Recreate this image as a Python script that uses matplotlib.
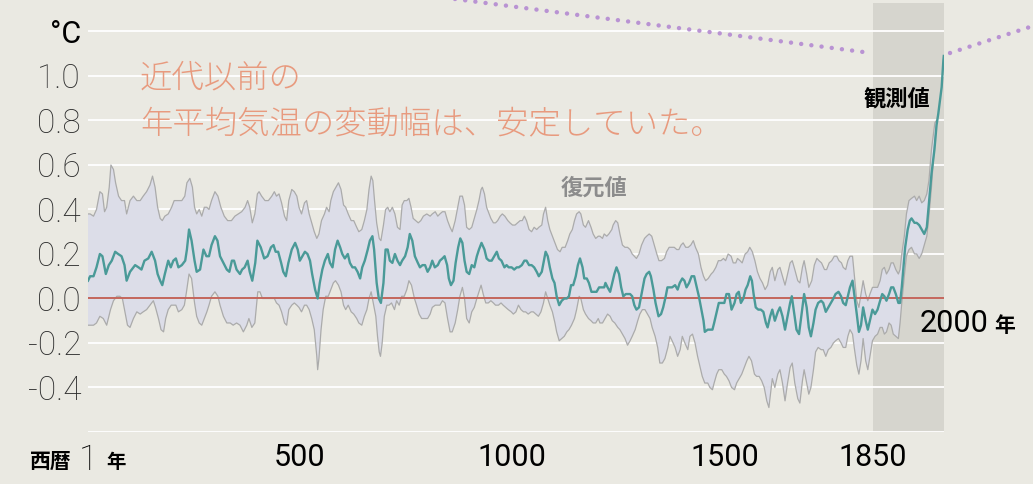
import numpy as np
import matplotlib
matplotlib.use('Agg')
import matplotlib.pyplot as plt
from matplotlib.lines import Line2D

# reconstructed mean (teal line), then observations from 1850
cen_year = [1, 6, 14, 21, 29, 35, 43, 50, 57, 65, 72, 80, 87, 92, 100, 112, 120, 127, 134, 143,
            151, 159, 165, 171, 176, 182, 190, 196, 202, 208, 214, 222, 230, 234, 239, 245, 252, 257, 265, 273,
            280, 286, 292, 300, 306, 312, 320, 328, 334, 340, 345, 351, 359, 364, 370, 377, 382, 388, 395, 400,
            408, 416, 424, 432, 438, 443, 449, 456, 461, 467, 473, 481, 489, 495, 500, 506, 512, 518, 524, 529,
            536, 542, 547, 553, 559, 566, 571, 577, 583, 589, 595, 600, 606, 613, 618, 624, 630, 636, 642, 647,
            653, 660, 665, 671, 675, 681, 686, 691, 697, 702, 707, 712, 718, 724, 730, 736, 741, 748, 754, 759,
            765, 771, 778, 783, 789,
            795, 801, 807, 812, 818, 825, 830, 836, 841, 847, 851, 856, 862, 867, 873, 878, 883, 888, 893, 899,
            905, 911, 917, 922, 928, 935, 940, 946, 952, 958, 964, 969, 975, 982, 987, 992, 999, 1005, 1011, 1016,
            1023, 1029, 1034, 1040, 1046, 1052, 1058, 1063, 1070, 1074, 1079, 1084, 1089, 1095, 1100, 1105, 1111,
            1117, 1123, 1129, 1134, 1139, 1144, 1150, 1155, 1160, 1166, 1170, 1176, 1181, 1187, 1194, 1199, 1205,
            1213, 1217, 1220, 1225, 1231, 1236, 1241, 1246, 1252, 1257, 1262, 1268, 1272, 1278, 1283, 1288, 1293,
            1299, 1305, 1312, 1317, 1323, 1327, 1333, 1338, 1345, 1351, 1356, 1362, 1366, 1372, 1377, 1384, 1390,
            1395, 1401, 1406, 1411, 1417, 1423, 1429, 1435, 1440, 1445, 1451, 1454, 1461, 1466, 1472, 1476, 1482,
            1487, 1494, 1500, 1505, 1511, 1517, 1524, 1529, 1534, 1539, 1545, 1550, 1555, 1561, 1565, 1569, 1574,
            1580, 1586, 1592, 1598,
            1602, 1608, 1613, 1619, 1626, 1631, 1637, 1643, 1649, 1655, 1659, 1665, 1670, 1676, 1682, 1688, 1694,
            1699, 1704, 1710, 1715, 1721, 1728, 1733, 1739, 1745, 1751, 1757, 1762, 1769, 1775, 1780, 1786, 1791,
            1796, 1802, 1806, 1812, 1817, 1822, 1827, 1833, 1838, 1843, 1849, 1855, 1861, 1867, 1872, 1877, 1882,
            1888, 1893, 1898, 1904, 1910, 1914, 1918, 1922, 1926, 1932, 1937, 1941, 1948, 1953, 1959, 1965, 1971,
            1977, 1982, 1988, 1995, 2000, 2004, 2008, 2012, 2016, 2017]
cen_temp = [0.08, 0.10, 0.10, 0.14, 0.20, 0.19, 0.11, 0.15, 0.17, 0.21, 0.20, 0.19, 0.15, 0.08, 0.12, 0.15, 0.14, 0.13, 0.17, 0.18,
            0.21, 0.17, 0.11, 0.08, 0.06, 0.11, 0.17, 0.14, 0.17, 0.18, 0.14, 0.15, 0.17, 0.22, 0.31, 0.26, 0.17, 0.12, 0.13, 0.22,
            0.19, 0.19, 0.24, 0.28, 0.26, 0.19, 0.16, 0.13, 0.12, 0.17, 0.17, 0.13, 0.11, 0.13, 0.14, 0.17, 0.12, 0.08, 0.16, 0.26,
            0.23, 0.18, 0.19, 0.23, 0.24, 0.21, 0.21, 0.16, 0.12, 0.10, 0.16, 0.22, 0.25, 0.22, 0.17, 0.19, 0.21, 0.20, 0.17, 0.11,
            0.04, 0.00, 0.07, 0.13, 0.17, 0.20, 0.16, 0.14, 0.22, 0.26, 0.23, 0.20, 0.18, 0.20, 0.16, 0.14, 0.14, 0.12, 0.09, 0.14,
            0.17, 0.22, 0.26, 0.28, 0.22, 0.07, 0.00, -0.02, 0.07, 0.22, 0.22, 0.17, 0.16, 0.20, 0.17, 0.15, 0.17, 0.19, 0.23, 0.29,
            0.26, 0.19, 0.16, 0.14, 0.15,
            0.15, 0.12, 0.14, 0.17, 0.14, 0.15, 0.17, 0.18, 0.19, 0.15, 0.09, 0.06, 0.08, 0.16, 0.23, 0.27, 0.25, 0.17, 0.12, 0.11,
            0.15, 0.14, 0.19, 0.22, 0.25, 0.22, 0.18, 0.17, 0.17, 0.19, 0.21, 0.18, 0.17, 0.14, 0.15, 0.14, 0.14, 0.13, 0.14, 0.14,
            0.15, 0.17, 0.17, 0.15, 0.15, 0.14, 0.12, 0.10, 0.12, 0.16, 0.21, 0.19, 0.14, 0.09, 0.07, 0.01, -0.03,
            -0.01, 0.00, 0.00, 0.01, 0.06, 0.06, 0.10, 0.15, 0.18, 0.14, 0.09, 0.09, 0.07, 0.03, 0.03, 0.03, 0.05,
            0.05, 0.05, 0.07, 0.05, 0.03, 0.07, 0.11, 0.14, 0.11, 0.05, 0.01, 0.02, 0.02, 0.02, 0.01, -0.03, -0.05,
            -0.04, 0.02, 0.09, 0.11, 0.12, 0.10, 0.04, -0.02, -0.08, -0.07, -0.04, 0.01, 0.05, 0.05, 0.05, 0.06, 0.04,
            0.07, 0.09, 0.08, 0.05, 0.07, 0.10, 0.10, 0.05, 0.01, -0.04, -0.10, -0.15, -0.14, -0.14, -0.14, -0.11, -0.06,
            -0.02, -0.02, -0.02, 0.02, 0.02, -0.05, -0.02, 0.02, 0.03, -0.02, 0.00, 0.04, 0.06, 0.10, 0.08, 0.02, -0.04,
            -0.05, -0.05, -0.06, -0.11,
            -0.13, -0.08, -0.05, -0.10, -0.06, -0.04, -0.08, -0.14, -0.08, -0.02, 0.01, -0.07, -0.14, -0.16, -0.07, 0.02, -0.04,
            -0.13, -0.17, -0.11, -0.05, -0.02, -0.01, -0.02, -0.06, -0.04, -0.02, 0.00, 0.02, 0.03, 0.01, -0.02, -0.03, 0.01,
            0.05, 0.08, 0.02, -0.07, -0.15, -0.12, -0.04, -0.10, -0.14, -0.10, -0.05, -0.07, -0.05, -0.01, 0.02, 0.01, -0.01,
            0.02, 0.05, 0.05, 0.02, -0.02, -0.02, 0.05, 0.14, 0.23, 0.31, 0.35, 0.36, 0.34, 0.34, 0.33, 0.31, 0.29,
            0.32, 0.43, 0.56, 0.67, 0.78, 0.83, 0.89, 0.95, 1.07, 1.09]

# upper edge of the reconstruction range
up_year = [1, 6, 14, 21, 29, 35, 40, 45, 51, 55, 61, 66, 73, 80, 87, 92, 100, 108, 116, 124,
           131, 139, 147, 153, 159, 165, 171, 176, 182, 190, 198, 204, 212, 222, 229, 234, 241, 247, 252, 257,
           263, 269, 275, 281, 286, 292, 300, 307, 314, 322, 330, 339, 347, 355, 363, 371, 377, 382, 388, 394, 400,
           404, 410, 418, 426, 434, 440, 445, 451, 457, 464, 469, 474, 481, 487, 493, 498, 504, 511, 516, 522,
           528, 534, 540, 545, 551, 558, 563, 569, 573, 579, 585, 591, 597, 603, 608, 614, 621, 627, 634, 639,
           646, 652, 658, 663, 668, 672, 676, 681, 687, 691, 697, 702, 707, 712, 718, 724, 730, 736, 741, 746,
           752, 757, 762, 767, 773, 779, 785, 791, 799,
           807, 812, 819, 825, 830, 836, 842, 848, 854, 859, 866, 872, 877, 883, 888, 893, 899, 905, 911, 917,
           922, 927, 930, 935, 940, 946, 950, 956, 961, 966, 972, 977, 983, 990, 995, 1001, 1007, 1013, 1019, 1024,
           1029, 1034, 1040, 1046, 1052, 1058, 1063, 1070, 1074, 1079, 1084, 1089, 1095, 1101, 1107, 1113, 1118,
           1125, 1131, 1136, 1142, 1147, 1152, 1158, 1162, 1168, 1173, 1180, 1186, 1191, 1197, 1203,
           1207, 1213, 1217, 1223, 1228, 1235, 1238, 1244, 1249, 1254, 1260, 1266, 1272, 1278, 1283, 1288, 1293,
           1299, 1305, 1312, 1317, 1323, 1329, 1335, 1341, 1346, 1352, 1359, 1364, 1370, 1376, 1382, 1388, 1393,
           1398, 1403, 1409, 1415, 1421, 1427, 1432, 1439, 1445, 1451, 1456, 1462, 1469, 1474, 1480, 1486, 1492,
           1498, 1503, 1509, 1516, 1521, 1527, 1531, 1537, 1542, 1549, 1555, 1560, 1566, 1572, 1578, 1584, 1590,
           1596, 1602, 1608,
           1613, 1619, 1626, 1631, 1637, 1643, 1649, 1655, 1660, 1666, 1673, 1678, 1684, 1688, 1694, 1699, 1706,
           1712, 1718, 1723, 1729, 1736, 1741, 1747, 1753, 1759, 1765, 1770, 1776, 1780, 1786, 1791, 1796, 1802,
           1806, 1812, 1817, 1822, 1827, 1833, 1838, 1843, 1849, 1855, 1861, 1867, 1872, 1877, 1882, 1888, 1893,
           1898, 1904, 1910, 1914, 1918, 1924, 1929, 1935, 1941, 1948, 1953, 1959, 1965, 1971, 1977, 1982, 1988,
           1992, 1996, 2000]
up_temp = [0.38, 0.38, 0.37, 0.40, 0.48, 0.47, 0.39, 0.41, 0.50, 0.60, 0.58, 0.52, 0.46, 0.44, 0.44, 0.38, 0.44, 0.46, 0.44, 0.44,
           0.46, 0.48, 0.51, 0.55, 0.50, 0.41, 0.36, 0.35, 0.37, 0.38, 0.41, 0.44, 0.44, 0.44, 0.46, 0.52, 0.54, 0.50, 0.41, 0.38,
           0.40, 0.37, 0.41, 0.41, 0.40, 0.44, 0.48, 0.46, 0.41, 0.37, 0.35, 0.35, 0.37, 0.38, 0.39, 0.41, 0.44, 0.41, 0.34, 0.38, 0.47,
           0.48, 0.46, 0.44, 0.44, 0.46, 0.48, 0.46, 0.47, 0.43, 0.37, 0.35, 0.44, 0.49, 0.48, 0.46, 0.41, 0.38, 0.43, 0.44, 0.38,
           0.34, 0.30, 0.27, 0.29, 0.35, 0.38, 0.41, 0.39, 0.44, 0.48, 0.50, 0.52, 0.49, 0.42, 0.41, 0.38, 0.35, 0.35, 0.32, 0.30,
           0.31, 0.35, 0.40, 0.49, 0.55, 0.53, 0.44, 0.34, 0.27, 0.26, 0.33, 0.40, 0.41, 0.39, 0.41, 0.38, 0.32, 0.31, 0.42, 0.44,
           0.44, 0.45, 0.41, 0.36, 0.35, 0.34, 0.35, 0.37, 0.38,
           0.37, 0.38, 0.39, 0.37, 0.38, 0.39, 0.39, 0.35, 0.32, 0.30, 0.35, 0.41, 0.46, 0.46, 0.42, 0.32, 0.31, 0.32, 0.36, 0.40,
           0.44, 0.49, 0.50, 0.47, 0.41, 0.38, 0.36, 0.34, 0.34, 0.35, 0.37, 0.38, 0.37, 0.35, 0.34, 0.33, 0.33, 0.34, 0.35, 0.35,
           0.37, 0.35, 0.31, 0.30, 0.32, 0.31, 0.32, 0.33, 0.38, 0.41, 0.35, 0.31, 0.28, 0.25, 0.22, 0.21, 0.23,
           0.23, 0.26, 0.29, 0.31, 0.35, 0.38, 0.39, 0.38, 0.33, 0.32, 0.35, 0.32, 0.29, 0.27, 0.28,
           0.28, 0.27, 0.29, 0.28, 0.29, 0.31, 0.33, 0.35, 0.34, 0.29, 0.24, 0.23, 0.23, 0.22, 0.20, 0.19, 0.18,
           0.20, 0.24, 0.27, 0.28, 0.29, 0.28, 0.24, 0.20, 0.17, 0.17, 0.18, 0.21, 0.23, 0.23, 0.23, 0.22, 0.22,
           0.24, 0.25, 0.23, 0.23, 0.24, 0.26, 0.23, 0.20, 0.14, 0.10, 0.08, 0.09, 0.11, 0.12, 0.14, 0.17, 0.17,
           0.18, 0.17, 0.20, 0.19, 0.16, 0.16, 0.18, 0.17, 0.16, 0.20, 0.21, 0.23, 0.21, 0.17, 0.12, 0.09, 0.07,
           0.04, 0.06, 0.12,
           0.14, 0.08, 0.13, 0.14, 0.10, 0.06, 0.11, 0.16, 0.17, 0.13, 0.08, 0.07, 0.14, 0.17, 0.11, 0.05, 0.08,
           0.15, 0.18, 0.17, 0.16, 0.13, 0.13, 0.16, 0.17, 0.19, 0.19, 0.17, 0.16, 0.14, 0.13, 0.17, 0.19, 0.19,
           0.11, -0.01, -0.04, 0.02, 0.08, 0.02, -0.01, 0.02, 0.05, 0.05, 0.05, 0.08, 0.13, 0.14, 0.11, 0.13, 0.16,
           0.16, 0.13, 0.11, 0.13, 0.20, 0.28, 0.38, 0.44, 0.45, 0.46, 0.44, 0.46, 0.43, 0.44, 0.47, 0.53, 0.67,
           0.73, 0.79, 0.80]

# lower edge of the reconstruction range
lo_year = [1, 6, 14, 21, 29, 37, 45, 54, 61, 69, 76, 82, 88, 94, 100, 108, 116, 124, 131, 139,
           147, 155, 160, 167, 173, 179, 184, 190, 197, 202, 208, 214, 222, 228, 233, 239, 245, 252, 257, 263,
           269, 275, 281, 286, 292, 300, 307, 312, 320, 328, 336, 343, 351, 359, 367, 375, 380, 387, 394, 401, 406,
           412, 418, 426, 434, 440, 445, 451, 457, 464, 469, 474, 481, 487, 493, 498, 504, 511, 516, 522, 528,
           534, 540, 542, 545, 550, 555, 561, 567, 573, 579, 584, 591, 597, 603, 608, 614, 621, 627, 634, 639,
           646, 652, 658, 663, 668, 673, 679, 683, 687, 690, 694, 699, 705, 710, 716, 723, 728, 734, 740, 746,
           752, 757, 763, 770, 775, 781, 787, 795,
           801, 807, 812, 819, 825, 830, 836, 842, 848, 854, 859, 866, 872, 877, 883, 888, 893, 899, 905, 911,
           917, 922, 927, 932, 938, 944, 950, 956, 961, 968, 974, 979, 985, 991, 998, 1003, 1009, 1015, 1021, 1027,
           1032, 1038, 1045, 1050, 1056, 1062, 1068, 1074, 1079, 1084, 1089, 1095, 1101, 1105, 1111, 1117, 1123,
           1129, 1134, 1140, 1147, 1152, 1158, 1162, 1168, 1173, 1180, 1186, 1191, 1197, 1203,
           1207, 1213, 1219, 1225, 1231, 1236, 1242, 1249, 1254, 1260, 1266, 1272, 1278, 1283, 1290, 1296, 1301,
           1307, 1313, 1319, 1325, 1330, 1337, 1343, 1348, 1354, 1360, 1367, 1372, 1377, 1384, 1390, 1396, 1401,
           1407, 1414, 1419, 1425, 1431, 1437, 1443, 1448, 1454, 1461, 1466, 1472, 1476, 1482, 1487, 1494, 1500,
           1505, 1511, 1517, 1524, 1529, 1535, 1541, 1547, 1553, 1558, 1564, 1571, 1576, 1582, 1588, 1594, 1600, 1605,
           1613, 1619, 1626, 1631, 1637, 1643, 1649, 1655, 1660, 1666, 1673, 1678, 1684, 1688, 1694, 1699, 1704,
           1710, 1715, 1721, 1728, 1733, 1739, 1745, 1751, 1757, 1762, 1769, 1775, 1780, 1786, 1791, 1796, 1802,
           1806, 1812, 1817, 1822, 1827, 1833, 1838, 1843, 1849, 1855, 1861, 1867, 1872, 1877, 1882, 1888, 1893,
           1898, 1904, 1910, 1914, 1918, 1924, 1929, 1935, 1941, 1948, 1953, 1959, 1965, 1971, 1977, 1982, 1988,
           1992, 1996, 2000]
lo_temp = [-0.12, -0.12, -0.12, -0.11, -0.08, -0.09, -0.12, -0.05, -0.01, 0.01, 0.01, 0.00, -0.06, -0.12, -0.13, -0.09, -0.06, -0.07, -0.06, -0.05,
           -0.03, -0.01, -0.04, -0.09, -0.14, -0.15, -0.09, -0.05, -0.03, -0.03, -0.03, -0.06, -0.05, -0.03, 0.03, 0.11, 0.09, -0.02, -0.08, -0.11,
           -0.12, -0.09, -0.06, -0.03, 0.01, 0.03, 0.01, -0.03, -0.08, -0.11, -0.11, -0.12, -0.11, -0.12, -0.15, -0.12, -0.09, -0.13, -0.11, 0.03, 0.03,
           0.00, 0.00, 0.00, 0.00, 0.00, -0.02, -0.03, -0.06, -0.11, -0.12, -0.05, -0.03, -0.02, -0.03, -0.04, -0.06, -0.03, -0.03, -0.05, -0.09,
           -0.14, -0.26, -0.32, -0.27, -0.14, -0.05, 0.01, 0.01, 0.04, 0.07, 0.08, 0.06, 0.03, -0.03, -0.05, -0.03, -0.06, -0.07, -0.09, -0.11,
           -0.12, -0.08, -0.05, 0.00, 0.03, -0.02, -0.08, -0.17, -0.24, -0.26, -0.20, -0.08, -0.03, -0.03, -0.02, -0.05, -0.01, -0.03, 0.01, 0.01,
           0.04, 0.08, 0.06, 0.00, -0.03, -0.07, -0.09, -0.09,
           -0.09, -0.07, -0.04, -0.03, -0.03, -0.03, -0.01, -0.02, -0.09, -0.15, -0.15, -0.11, -0.05, 0.01, 0.05, 0.00, -0.09, -0.11, -0.06, -0.04,
           0.00, 0.03, 0.06, 0.02, -0.02, -0.02, -0.01, -0.02, -0.03, -0.03, -0.02, -0.03, -0.04, -0.05, -0.06, -0.07, -0.06, -0.03, -0.05, -0.06,
           -0.06, -0.07, -0.06, -0.06, -0.07, -0.08, -0.06, -0.02, 0.03, 0.00, -0.03, -0.06, -0.11, -0.15, -0.19, -0.18, -0.17,
           -0.15, -0.14, -0.12, -0.09, -0.05, 0.01, 0.00, -0.05, -0.07, -0.09, -0.10, -0.11, -0.11, -0.09,
           -0.11, -0.11, -0.09, -0.07, -0.08, -0.10, -0.11, -0.13, -0.14, -0.16, -0.18, -0.21, -0.19, -0.17, -0.14, -0.10, -0.07,
           -0.05, -0.05, -0.07, -0.09, -0.13, -0.17, -0.22, -0.29, -0.29, -0.27, -0.22, -0.17, -0.19, -0.22, -0.26, -0.23, -0.17,
           -0.20, -0.23, -0.17, -0.16, -0.20, -0.26, -0.31, -0.35, -0.38, -0.38, -0.40, -0.41, -0.38, -0.34, -0.32, -0.32, -0.34,
           -0.35, -0.37, -0.40, -0.41, -0.38, -0.36, -0.34, -0.31, -0.28, -0.26, -0.28, -0.34, -0.35, -0.35, -0.37, -0.40, -0.46, -0.49,
           -0.36, -0.40, -0.34, -0.32, -0.38, -0.46, -0.38, -0.31, -0.29, -0.38, -0.45, -0.47, -0.37, -0.32, -0.38, -0.43, -0.40,
           -0.32, -0.24, -0.22, -0.23, -0.23, -0.26, -0.23, -0.22, -0.20, -0.19, -0.18, -0.20, -0.22, -0.22, -0.17, -0.14, -0.16,
           -0.22, -0.30, -0.34, -0.28, -0.18, -0.28, -0.32, -0.26, -0.19, -0.17, -0.16, -0.13, -0.13, -0.16, -0.15, -0.11, -0.12,
           -0.16, -0.17, -0.18, -0.11, -0.02, 0.10, 0.19, 0.22, 0.23, 0.20, 0.20, 0.18, 0.20, 0.24, 0.28, 0.37, 0.50,
           0.61, 0.71, 0.79]

assert len(cen_year) == len(cen_temp), (len(cen_year), len(cen_temp))
assert len(up_year) == len(up_temp), (len(up_year), len(up_temp))
assert len(lo_year) == len(lo_temp), (len(lo_year), len(lo_temp))

grid_vals = [-0.6, -0.4, -0.2, 0.0, 0.2, 0.4, 0.6, 0.8, 1.0, 1.2]
grid_labels = ['', '-0.4', '-0.2', '0.0', '0.2', '0.4', '0.6', '0.8', '1.0', '°C']
xtick_vals = [1, 500, 1000, 1500, 1850]
xtick_labels = ['1', '500', '1000', '1500', '1850']
obs_start = 1850
x_end = 2017.5

BG = '#EAE9E2'
JP = ['Noto Sans CJK JP', 'DejaVu Sans']
plt.rcParams['font.family'] = ['Roboto', 'DejaVu Sans']

W, H = 1033, 484
fig = plt.figure(figsize=(W / 100, H / 100), dpi=100, facecolor=BG)
ax = fig.add_axes([88 / W, 1 - 432 / H, 856 / W, 429 / H])
ax.set_facecolor(BG)
ax.set_xlim(1, x_end)
ax.set_ylim(-0.6, 1.328)

# observation period
ax.axvspan(obs_start, x_end, color='#D6D5CE', lw=0, zorder=0)
for v in grid_vals:
    ax.axhline(v, color='white', lw=1.3, zorder=1)

# reconstruction range
poly_x = np.r_[up_year, lo_year[::-1]]
poly_y = np.r_[up_temp, lo_temp[::-1]]
ax.fill(poly_x, poly_y, color='#DCDDE8', lw=0, zorder=2)
ax.plot(up_year, up_temp, color='#ABABAB', lw=0.9, zorder=3)
ax.plot(lo_year, lo_temp, color='#ABABAB', lw=0.9, zorder=3)

ax.axhline(0, color='#C4665C', lw=1.4, zorder=4)
ax.plot(cen_year, cen_temp, color='#4A9A98', lw=1.7, zorder=5)

for s in ax.spines.values():
    s.set_visible(False)

ax.set_yticks(grid_vals)
ax.set_yticklabels(grid_labels, fontsize=24, fontweight='light', color='#2E2E2E')
ax.tick_params(axis='y', length=0, pad=5)
deg = ax.get_yticklabels()[-1]
deg.set_color('black')
deg.set_fontsize(22)
deg.set_fontweight('normal')

ax.set_xticks(xtick_vals)
ax.set_xticklabels(xtick_labels, fontsize=22, color='black')
ax.tick_params(axis='x', length=0, pad=8)
first = ax.get_xticklabels()[0]
first.set_fontsize(25)
first.set_fontweight('light')

# text
fig.text(51 / W, 1 - 462 / H, '西暦', ha='center', va='center', fontsize=15,
         fontweight='bold', family=JP)
fig.text(116 / W, 1 - 462 / H, '年', ha='center', va='center', fontsize=14,
         fontweight='bold', family=JP)
fig.text(920 / W, 1 - 324 / H, '2000', ha='left', va='center', fontsize=22)
fig.text(1005 / W, 1 - 326 / H, '年', ha='center', va='center', fontsize=15,
         fontweight='bold', family=JP)
fig.text(897 / W, 1 - 99 / H, '観測値', ha='center', va='center', fontsize=16,
         fontweight='bold', family=JP)
fig.text(594 / W, 1 - 188 / H, '復元値', ha='center', va='center', fontsize=16,
         fontweight='bold', color='#8C8C8C', family=JP)
fig.text(140 / W, 1 - 78 / H, '近代以前の', ha='left', va='center', fontsize=23.3,
         fontweight='light', color='#E89A7E', family=JP)
fig.text(140 / W, 1 - 125 / H, '年平均気温の変動幅は、安定していた。', ha='left', va='center',
         fontsize=23.3, fontweight='light', color='#E89A7E', family=JP)

# dotted connector lines to the next panel
for (x0, y0), (x1, y1) in [((455, -1), (871, 53)), ((950, 53), (1036, 25))]:
    fig.add_artist(Line2D([x0 / W, x1 / W], [1 - y0 / H, 1 - y1 / H], transform=fig.transFigure,
                          color='#B993D3', lw=3.2, linestyle=(0, (0.01, 2.3)),
                          dash_capstyle='round'))

fig.savefig('out.png', dpi=100, facecolor=BG)
